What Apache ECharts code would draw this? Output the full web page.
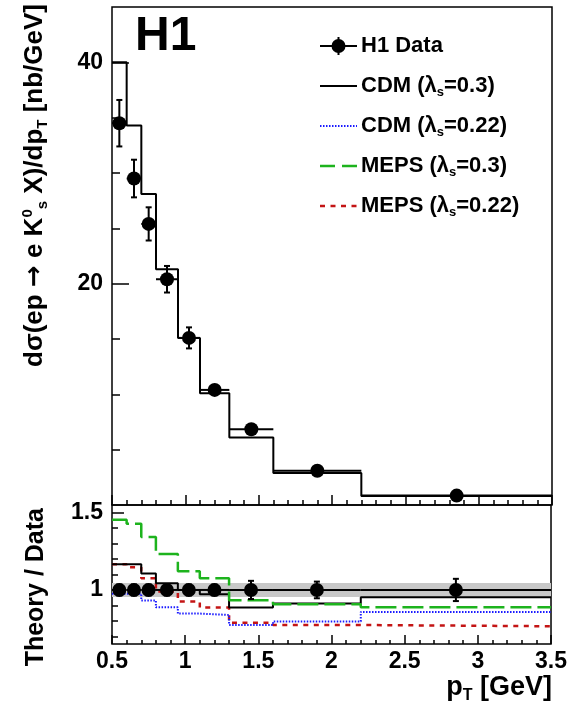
<!DOCTYPE html>
<html>
<head>
<meta charset="utf-8">
<script src="https://cdn.jsdelivr.net/npm/echarts@6/dist/echarts.min.js"></script>
<style>
  html, body { margin: 0; padding: 0; background: #fff; }
  #chart { width: 570px; height: 720px; }
</style>
</head>
<body>
<div id="chart"></div>
<script>
// bin edges in pT [GeV]
const edges = [0.5, 0.6, 0.7, 0.8, 0.95, 1.1, 1.3, 1.6, 2.2, 3.5];

// H1 data (top panel)
const dataX = [0.55, 0.65, 0.75, 0.875, 1.025, 1.2, 1.45, 1.9, 2.85];
const dataY = [34.5, 29.5, 25.4, 20.4, 15.1, 10.4, 6.85, 3.1, 0.85];
const dataErr = [2.1, 1.7, 1.5, 1.2, 0.95, 0.4, 0.3, 0.2, 0.1];

// CDM lambda_s=0.3 histogram (top panel)
const cdmTop = [40.0, 34.3, 28.1, 21.3, 15.1, 10.1, 6.1, 2.9, 0.81];

// theory / data ratios (bottom panel)
const ratioCdm03 = [1.166, 1.166, 1.106, 1.043, 0.999, 0.972, 0.886, 0.912, 0.953];
const ratioCdm022 = [0.975, 0.975, 0.932, 0.888, 0.847, 0.838, 0.773, 0.795, 0.858];
const ratioMeps03 = [1.455, 1.429, 1.342, 1.232, 1.121, 1.075, 0.934, 0.907, 0.888];
const ratioMeps022 = [1.166, 1.147, 1.075, 0.99, 0.925, 0.886, 0.787, 0.773, 0.765];
const ratioErr = [0.035, 0.035, 0.035, 0.035, 0.035, 0.035, 0.059, 0.054, 0.072];
const band = [0.955, 1.045];

// axis ticks
const topMajor = [20, 40];
const topMinor = [5, 10, 15, 25, 30, 35];
const lowMajor = [1, 1.5];
const lowMinor = [0.7, 0.8, 0.9, 1.1, 1.2, 1.3, 1.4];

const FONT = "'Liberation Sans', Arial, Helvetica, sans-serif";
const GREEN = '#1db31d';
const RED = '#c41414';
const BLUE = '#1a1aff';

let stepData = (vals) => {
  let d = vals.map((v, i) => [edges[i], v]);
  d.push([edges[edges.length - 1], vals[vals.length - 1]]);
  return d;
};

let errRows = (ys, errs) => dataX.map((x, i) => [x, ys[i], errs[i], edges[i], edges[i + 1]]);

let renderErr = (params, api) => {
  let x = api.value(0), y = api.value(1), e = api.value(2);
  let c = api.coord([x, y]);
  let t = api.coord([x, y + e]);
  let b = api.coord([x, y - e]);
  let l = api.coord([api.value(3), y]);
  let r = api.coord([api.value(4), y]);
  let st = { stroke: '#000', lineWidth: 2 };
  return {
    type: 'group',
    children: [
      { type: 'line', shape: { x1: l[0], y1: c[1], x2: r[0], y2: c[1] }, style: st },
      { type: 'line', shape: { x1: c[0], y1: t[1], x2: c[0], y2: b[1] }, style: st },
      { type: 'line', shape: { x1: c[0] - 3, y1: t[1], x2: c[0] + 3, y2: t[1] }, style: st },
      { type: 'line', shape: { x1: c[0] - 3, y1: b[1], x2: c[0] + 3, y2: b[1] }, style: st }
    ]
  };
};

let renderBand = (params, api) => {
  let p0 = api.coord([api.value(0), api.value(3)]);
  let p1 = api.coord([api.value(1), api.value(2)]);
  return {
    type: 'rect',
    shape: { x: p0[0], y: p0[1], width: p1[0] - p0[0], height: p1[1] - p0[1] },
    style: { fill: '#c8c8c8' }
  };
};

let xAxisBase = (grid, tickLen, minorLen, showLabel) => ({
  gridIndex: grid,
  type: 'value',
  min: 0.5,
  max: 3.5,
  interval: 0.5,
  axisLine: { show: false },
  splitLine: { show: false },
  axisTick: { inside: true, length: tickLen, lineStyle: { color: '#000', width: 1.5 } },
  minorTick: { show: true, splitNumber: 5, length: minorLen, lineStyle: { color: '#000', width: 1.5 } },
  axisLabel: {
    show: showLabel, margin: 6, color: '#000', fontFamily: FONT, fontWeight: 'bold',
    fontSize: 23, lineHeight: 24,
    formatter: v => String(v)
  }
});

let yAxisBase = (grid, min, max, ticks, tickLen, labels) => ({
  gridIndex: grid,
  type: 'value',
  position: 'left',
  min: min,
  max: max,
  axisLine: { show: false },
  splitLine: { show: false },
  axisTick: { inside: true, length: tickLen, customValues: ticks, lineStyle: { color: '#000', width: 1.5 } },
  axisLabel: labels ? {
    show: true, customValues: labels, margin: 9, color: '#000', fontFamily: FONT,
    fontWeight: 'bold', fontSize: 23, formatter: v => String(v)
  } : { show: false }
});

let legendRow = (y, label, lineStyle) => [
  { type: 'line', shape: { x1: 320, y1: y, x2: 357, y2: y }, style: lineStyle, z: 10 },
  {
    type: 'text', x: 361, y: y, z: 10,
    style: {
      text: label, font: `bold 22px ${FONT}`, fill: '#000', verticalAlign: 'middle',
      rich: {
        m: { font: `bold 22px ${FONT}`, lineHeight: 26 },
        s: { font: `bold 13px ${FONT}`, lineHeight: 13, verticalAlign: 'bottom' }
      }
    }
  }
];

const chart = echarts.init(document.getElementById('chart'), null, { renderer: 'canvas' });

const option = {
  animation: false,
  backgroundColor: '#fff',
  grid: [
    { left: 112, top: 7, width: 440, height: 498, show: true, borderColor: '#000', borderWidth: 1.5, backgroundColor: 'transparent' },
    { left: 112, top: 505, width: 440, height: 139, show: true, borderColor: '#000', borderWidth: 1.5, backgroundColor: 'transparent' }
  ],
  xAxis: [
    xAxisBase(0, 10, 5, false),
    xAxisBase(1, 9, 4, true)
  ],
  yAxis: [
    yAxisBase(0, 0, 45, topMajor, 17, topMajor),
    yAxisBase(0, 0, 45, topMinor, 8, null),
    yAxisBase(1, 0.65, 1.55, lowMajor, 12, lowMajor),
    yAxisBase(1, 0.65, 1.55, lowMinor, 6, null)
  ],
  series: [
    {
      name: 'CDM top', type: 'line', xAxisIndex: 0, yAxisIndex: 0, step: 'end',
      data: stepData(cdmTop), showSymbol: false, symbol: 'none', z: 2,
      lineStyle: { color: '#000', width: 2 }
    },
    {
      name: 'H1 err', type: 'custom', xAxisIndex: 0, yAxisIndex: 0, z: 3,
      data: errRows(dataY, dataErr), renderItem: renderErr, encode: { x: 0, y: 1 }
    },
    {
      name: 'H1 Data', type: 'scatter', xAxisIndex: 0, yAxisIndex: 0, z: 4,
      data: dataX.map((x, i) => [x, dataY[i]]), symbolSize: 14,
      itemStyle: { color: '#000', opacity: 1 }
    },
    {
      name: 'band', type: 'custom', xAxisIndex: 1, yAxisIndex: 2, z: 1,
      data: [[edges[0], edges[edges.length - 1], band[0], band[1]]],
      renderItem: renderBand, encode: { x: [0, 1], y: [2, 3] }
    },
    {
      name: 'MEPS 0.22', type: 'line', xAxisIndex: 1, yAxisIndex: 2, step: 'end',
      data: stepData(ratioMeps022), symbol: 'none', z: 2,
      lineStyle: { color: RED, width: 2.5, type: [5, 5.5] }
    },
    {
      name: 'CDM 0.22', type: 'line', xAxisIndex: 1, yAxisIndex: 2, step: 'end',
      data: stepData(ratioCdm022), symbol: 'none', z: 2,
      lineStyle: { color: BLUE, width: 2, type: [1.5, 1.5] }
    },
    {
      name: 'CDM 0.3', type: 'line', xAxisIndex: 1, yAxisIndex: 2, step: 'end',
      data: stepData(ratioCdm03), symbol: 'none', z: 2,
      lineStyle: { color: '#000', width: 2 }
    },
    {
      name: 'MEPS 0.3', type: 'line', xAxisIndex: 1, yAxisIndex: 2, step: 'end',
      data: stepData(ratioMeps03), symbol: 'none', z: 2,
      lineStyle: { color: GREEN, width: 2.5, type: [21, 6] }
    },
    {
      name: 'ratio err', type: 'custom', xAxisIndex: 1, yAxisIndex: 2, z: 3,
      data: errRows(dataX.map(() => 1), ratioErr), renderItem: renderErr, encode: { x: 0, y: 1 }
    },
    {
      name: 'ratio pts', type: 'scatter', xAxisIndex: 1, yAxisIndex: 2, z: 4,
      data: dataX.map(x => [x, 1]), symbolSize: 14,
      itemStyle: { color: '#000', opacity: 1 }
    }
  ],
  graphic: [
    // H1 label
    { type: 'text', x: 135, y: 36.5, z: 10, style: { text: 'H1', font: `bold 48px ${FONT}`, fill: '#000', verticalAlign: 'middle' } },
    // legend
    { type: 'line', shape: { x1: 320, y1: 46, x2: 357, y2: 46 }, style: { stroke: '#000', lineWidth: 2 }, z: 10 },
    { type: 'line', shape: { x1: 338.5, y1: 37, x2: 338.5, y2: 55 }, style: { stroke: '#000', lineWidth: 2 }, z: 10 },
    { type: 'circle', shape: { cx: 338.5, cy: 46, r: 7 }, style: { fill: '#000' }, z: 10 },
    { type: 'text', x: 361, y: 46, z: 10, style: { text: 'H1 Data', font: `bold 22px ${FONT}`, fill: '#000', verticalAlign: 'middle' } },
    ...legendRow(86, '{m|CDM (λ}{s|s}{m|=0.3)}', { stroke: '#000', lineWidth: 2 }),
    ...legendRow(126, '{m|CDM (λ}{s|s}{m|=0.22)}', { stroke: BLUE, lineWidth: 2, lineDash: [1.5, 1.5] }),
    ...legendRow(166, '{m|MEPS (λ}{s|s}{m|=0.3)}', { stroke: GREEN, lineWidth: 2.5, lineDash: [15, 7] }),
    ...legendRow(206, '{m|MEPS (λ}{s|s}{m|=0.22)}', { stroke: RED, lineWidth: 2.5, lineDash: [5, 5.5] }),
    // axis titles
    {
      type: 'text', x: 35, y: 4, rotation: Math.PI / 2, z: 10,
      style: {
        text: '{m|dσ(ep }{a|→}{m| e K}{p|0}{s|s}{m| X)/dp}{s|T}{m| [nb/GeV]}',
        fill: '#000', align: 'right', verticalAlign: 'middle',
        rich: {
          m: { font: `bold 26px ${FONT}`, lineHeight: 30 },
          a: { font: `bold 26px 'DejaVu Sans', sans-serif`, lineHeight: 30 },
          p: { font: `bold 15px ${FONT}`, lineHeight: 15, verticalAlign: 'top' },
          s: { font: `bold 15px ${FONT}`, lineHeight: 15, verticalAlign: 'bottom' }
        }
      }
    },
    {
      type: 'text', x: 36, y: 508, rotation: Math.PI / 2, z: 10,
      style: { text: 'Theory / Data', font: `bold 25px ${FONT}`, fill: '#000', align: 'right', verticalAlign: 'middle' }
    },
    {
      type: 'text', x: 552, y: 688, z: 10,
      style: {
        text: '{m|p}{s|T}{m| [GeV]}', fill: '#000', align: 'right', verticalAlign: 'middle',
        rich: {
          m: { font: `bold 27px ${FONT}`, lineHeight: 32 },
          s: { font: `bold 16px ${FONT}`, lineHeight: 16, verticalAlign: 'bottom' }
        }
      }
    }
  ]
};

chart.setOption(option);
window.addEventListener('resize', chart.resize);
</script>
</body>
</html>
